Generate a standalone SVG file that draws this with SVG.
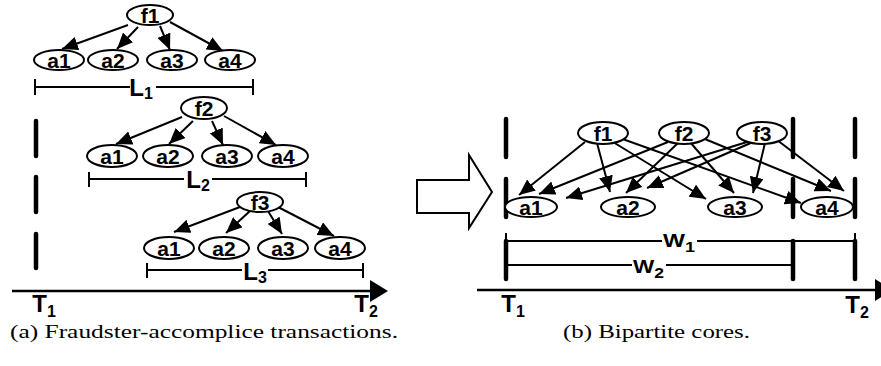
<svg xmlns="http://www.w3.org/2000/svg" width="881" height="366" viewBox="0 0 881 366">
<defs>
<marker id="ah" markerUnits="userSpaceOnUse" markerWidth="16" markerHeight="14" refX="16" refY="7" orient="auto">
<path d="M0,0 L16,7 L0,14 z" fill="#000"/>
</marker>
<style>
.nd ellipse{fill:#fff;stroke:#000;stroke-width:2}
.nd text,.lb{font-family:"Liberation Sans",Arial,sans-serif;font-weight:bold;fill:#000;text-anchor:middle}
.nd text{font-size:21px}
.cn line{stroke:#000;stroke-width:2;marker-end:url(#ah)}
.br{stroke:#000;stroke-width:2;fill:none}
.bar{stroke:#000;stroke-width:4.5;stroke-linecap:round}
.big{font-size:24px}
.sub{font-size:16px}
.cap{font-family:"Liberation Serif","Times New Roman",serif;font-size:18px;fill:#000}
</style>
</defs>
<rect width="881" height="366" fill="#fff"/>

<!-- LEFT PANEL -->
<g id="left-time-bar">
<line class="bar" x1="36" y1="121" x2="36" y2="156"/>
<line class="bar" x1="36" y1="177" x2="36" y2="212"/>
<line class="bar" x1="36" y1="234" x2="36" y2="268"/>
</g>

<g class="cn" id="left-connectors">
<line x1="128" y1="25" x2="62" y2="49"/>
<line x1="138" y1="27" x2="117" y2="49"/>
<line x1="160" y1="26" x2="170" y2="50"/>
<line x1="170" y1="22" x2="223" y2="51"/>
<line x1="182" y1="117" x2="116" y2="144"/>
<line x1="193" y1="121" x2="169" y2="144"/>
<line x1="212" y1="121" x2="223" y2="145"/>
<line x1="224" y1="116" x2="276" y2="145"/>
<line x1="240" y1="207" x2="174" y2="232"/>
<line x1="250" y1="211" x2="226" y2="233"/>
<line x1="268" y1="211" x2="282" y2="234"/>
<line x1="278" y1="207" x2="334" y2="236"/>
</g>

<g id="L-f1" class="nd"><ellipse cx="150" cy="15" rx="23" ry="10"/><text x="150" y="22.5">f1</text></g>
<g id="L-f1-a1" class="nd"><ellipse cx="59" cy="60" rx="25" ry="10"/><text x="59" y="67.5">a1</text></g>
<g id="L-f1-a2" class="nd"><ellipse cx="113" cy="60" rx="25" ry="10"/><text x="113" y="67.5">a2</text></g>
<g id="L-f1-a3" class="nd"><ellipse cx="172" cy="60" rx="25" ry="10"/><text x="172" y="67.5">a3</text></g>
<g id="L-f1-a4" class="nd"><ellipse cx="230" cy="60" rx="25" ry="10"/><text x="230" y="67.5">a4</text></g>

<g id="L-f2" class="nd"><ellipse cx="204" cy="108" rx="23" ry="11"/><text x="204" y="115.5">f2</text></g>
<g id="L-f2-a1" class="nd"><ellipse cx="112" cy="156" rx="25" ry="11"/><text x="112" y="163.5">a1</text></g>
<g id="L-f2-a2" class="nd"><ellipse cx="168" cy="156" rx="25" ry="11"/><text x="168" y="163.5">a2</text></g>
<g id="L-f2-a3" class="nd"><ellipse cx="227" cy="156" rx="25" ry="11"/><text x="227" y="163.5">a3</text></g>
<g id="L-f2-a4" class="nd"><ellipse cx="283" cy="156" rx="25" ry="11"/><text x="283" y="163.5">a4</text></g>

<g id="L-f3" class="nd"><ellipse cx="260" cy="202" rx="23" ry="10"/><text x="260" y="209.5">f3</text></g>
<g id="L-f3-a1" class="nd"><ellipse cx="169" cy="248" rx="25" ry="11"/><text x="169" y="255.5">a1</text></g>
<g id="L-f3-a2" class="nd"><ellipse cx="224" cy="248" rx="25" ry="11"/><text x="224" y="255.5">a2</text></g>
<g id="L-f3-a3" class="nd"><ellipse cx="283" cy="248" rx="25" ry="11"/><text x="283" y="255.5">a3</text></g>
<g id="L-f3-a4" class="nd"><ellipse cx="340" cy="248" rx="25" ry="11"/><text x="340" y="255.5">a4</text></g>

<g id="L1">
<path class="br" d="M35,79 V95 M35,87 H130 M156,87 H253 M253,79 V95"/>
<text class="lb big" x="141" y="96">L<tspan class="sub" dy="3">1</tspan></text>
</g>
<g id="L2">
<path class="br" d="M89,172 V187 M89,179 H184 M212,179 H306 M306,172 V187"/>
<text class="lb big" x="198" y="188">L<tspan class="sub" dy="3">2</tspan></text>
</g>
<g id="L3">
<path class="br" d="M147,263 V278 M147,270 H242 M268,270 H363 M363,263 V278"/>
<text class="lb big" x="255" y="280">L<tspan class="sub" dy="3">3</tspan></text>
</g>

<g id="left-axis">
<line x1="12" y1="291" x2="374" y2="291" stroke="#000" stroke-width="2.5"/>
<path d="M370,280 L388,291 L370,302 z" fill="#000"/>
<text class="lb big" x="44" y="312">T<tspan class="sub" dy="5">1</tspan></text>
<text class="lb big" x="366" y="312">T<tspan class="sub" dy="5">2</tspan></text>
</g>

<text class="cap" x="10" y="338" textLength="388" lengthAdjust="spacingAndGlyphs">(a) Fraudster-accomplice transactions.</text>

<!-- BIG ARROW -->
<g id="transform-arrow">
<path d="M417,180 H469 V155 L492,192 L469,228 V213 H417 z" fill="#fff" stroke="#000" stroke-width="2"/>
</g>

<!-- RIGHT PANEL -->
<g id="right-windows">
<line class="bar" x1="506" y1="119" x2="506" y2="157"/>
<line class="bar" x1="506" y1="179" x2="506" y2="217"/>
<line class="bar" x1="506" y1="241" x2="506" y2="279"/>
<line class="bar" x1="793" y1="119" x2="793" y2="157"/>
<line class="bar" x1="793" y1="179" x2="793" y2="217"/>
<line class="bar" x1="793" y1="241" x2="793" y2="279"/>
<line class="bar" x1="855" y1="119" x2="855" y2="157"/>
<line class="bar" x1="855" y1="179" x2="855" y2="217"/>
<line class="bar" x1="855" y1="241" x2="855" y2="279"/>
</g>

<g class="cn" id="right-connectors">
<line x1="585" y1="142" x2="519" y2="195"/>
<line x1="597" y1="143" x2="610" y2="192"/>
<line x1="613" y1="142" x2="706" y2="199"/>
<line x1="617" y1="137" x2="801" y2="203"/>
<line x1="668" y1="142" x2="539" y2="194"/>
<line x1="678" y1="143" x2="626" y2="193"/>
<line x1="690" y1="142" x2="734" y2="193"/>
<line x1="700" y1="137" x2="831" y2="191"/>
<line x1="747" y1="142" x2="566" y2="198"/>
<line x1="753" y1="142" x2="647" y2="188"/>
<line x1="765" y1="143" x2="753" y2="193"/>
<line x1="777" y1="140" x2="844" y2="191"/>
</g>

<g id="R-f1" class="nd"><ellipse cx="603" cy="133" rx="25" ry="11"/><text x="603" y="140.5">f1</text></g>
<g id="R-f2" class="nd"><ellipse cx="684" cy="133" rx="25" ry="11"/><text x="684" y="140.5">f2</text></g>
<g id="R-f3" class="nd"><ellipse cx="762" cy="133" rx="25" ry="11"/><text x="762" y="140.5">f3</text></g>
<g id="R-a1" class="nd"><ellipse cx="531" cy="207" rx="26" ry="10"/><text x="531" y="214.5">a1</text></g>
<g id="R-a2" class="nd"><ellipse cx="628" cy="207" rx="27" ry="10"/><text x="628" y="214.5">a2</text></g>
<g id="R-a3" class="nd"><ellipse cx="735" cy="207" rx="27" ry="10"/><text x="735" y="214.5">a3</text></g>
<g id="R-a4" class="nd"><ellipse cx="827" cy="207" rx="26" ry="10"/><text x="827" y="214.5">a4</text></g>

<g id="W1">
<path class="br" d="M506,233 V249 M506,241 H662 M697,241 H855 M855,233 V249"/>
<text class="lb" x="663" y="247" font-size="18" textLength="32" lengthAdjust="spacingAndGlyphs" style="text-anchor:start">W<tspan font-size="14" dy="5">1</tspan></text>
</g>
<g id="W2">
<path class="br" d="M506,265 H632 M666,265 H793"/>
<text class="lb" x="633" y="273" font-size="18" textLength="31" lengthAdjust="spacingAndGlyphs" style="text-anchor:start">W<tspan font-size="14" dy="5">2</tspan></text>
</g>

<g id="right-axis">
<line x1="477" y1="290" x2="878" y2="290" stroke="#000" stroke-width="2.5"/>
<path d="M875,279 L893,290 L875,301 z" fill="#000"/>
<text class="lb big" x="513" y="312">T<tspan class="sub" dy="5">1</tspan></text>
<text class="lb big" x="857" y="313">T<tspan class="sub" dy="5">2</tspan></text>
</g>

<text class="cap" x="563" y="338" textLength="187" lengthAdjust="spacingAndGlyphs">(b) Bipartite cores.</text>
</svg>
